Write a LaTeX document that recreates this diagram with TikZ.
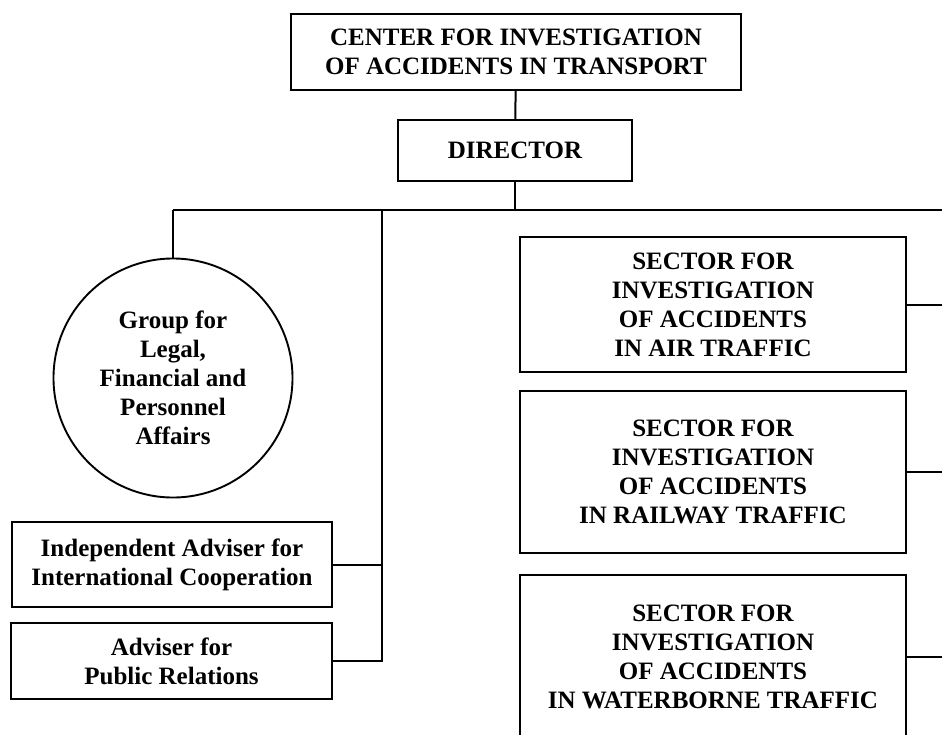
\documentclass[tikz,border=0pt]{standalone}
\usepackage{fontspec}
\setmainfont{Liberation Serif}
\usepackage{tikz}
\tikzset{>=latex}
\tikzset{
    orgbox/.style={draw, line width=2.2pt, inner sep=0pt, align=center,
        font=\bfseries\fontsize{25}{29}\selectfont},
    orgcircle/.style={orgbox, circle, line width=1.9pt, minimum size=239pt},
    link/.style={line width=2pt}
}

\begin{document}
\begin{tikzpicture}[x=1pt, y=-1pt]
    % Fix the page size and cut what runs past the edges
    \useasboundingbox (0,0) rectangle (942,734);
    \clip (0,0) rectangle (942,734);

    % Top of the chart
    \node[orgbox, minimum width=450pt, minimum height=76pt] (center) at (516,52)
        {CENTER FOR INVESTIGATION\\OF ACCIDENTS IN TRANSPORT};
    \node[orgbox, minimum width=234pt, minimum height=61pt] (director) at (515,150.5)
        {DIRECTOR};

    % Left branch
    \node[orgcircle] (group) at (173,378)
        {Group for\\Legal,\\Financial and\\Personnel\\Affairs};
    \node[orgbox, minimum width=320pt, minimum height=85pt] (indep) at (172,564.5)
        {Independent Adviser for\\International Cooperation};
    \node[orgbox, minimum width=321pt, minimum height=76pt] (public) at (171.5,661)
        {Adviser for\\Public Relations};

    % Right branch: the sectors
    \node[orgbox, minimum width=386pt, minimum height=135pt] (air) at (713,304.5)
        {SECTOR FOR\\INVESTIGATION\\OF ACCIDENTS\\IN AIR TRAFFIC};
    \node[orgbox, minimum width=386pt, minimum height=162pt] (railway) at (713,472)
        {SECTOR FOR\\INVESTIGATION\\OF ACCIDENTS\\IN RAILWAY TRAFFIC};
    \node[orgbox, minimum width=386pt, minimum height=164pt] (water) at (713,657)
        {SECTOR FOR\\INVESTIGATION\\OF ACCIDENTS\\IN WATERBORNE TRAFFIC};

    % Bus under the director
    \coordinate (busL) at (173,210);
    \coordinate (busM) at (382,210);
    \coordinate (busR) at (950,210);
    \draw[link] (busL) -- (busR);
    \draw[link] (center) -- (director);
    \draw[link] (director) -- (director |- busL);
    \draw[link] (busL) -- (group);

    % Advisers hang on one vertical line
    \draw[link] (busM) |- (public.east);
    \draw[link] (indep.east) -- (indep.east -| busM);

    % Sectors run off to the right edge
    \foreach \s in {air, railway, water} {
        \draw[link] (\s.east) -- (\s.east -| busR);
    }
\end{tikzpicture}
\end{document}
